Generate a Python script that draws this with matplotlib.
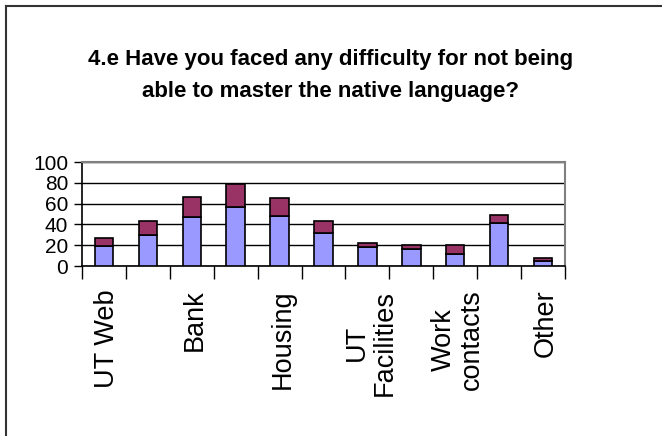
import matplotlib
matplotlib.use("Agg")
import matplotlib.pyplot as plt
from matplotlib.lines import Line2D
import numpy as np

categories = ["UT Web", "", "Bank", "", "Housing", "", "UT\nFacilities", "", "Work\ncontacts", "", "Other"]
series_blue = [19, 30, 47, 57, 48, 32, 18, 16, 12, 41, 5]
series_red = [8, 13, 19, 22, 17, 11, 4, 4, 8, 8, 3]
yticks = [0, 20, 40, 60, 80, 100]
title = "4.e Have you faced any difficulty for not being\nable to master the native language?"

regular = ["Liberation Sans", "DejaVu Sans"]

fig = plt.figure(figsize=(6.62, 4.36), dpi=100)
ax = fig.add_axes([82/662, 1-266/436, (565-82)/662, (266-162)/436])

x = np.arange(len(categories))
w = 0.42
ax.bar(x, series_blue, width=w, color="#9999FF", edgecolor="black", linewidth=1.2, zorder=3)
ax.bar(x, series_red, width=w, bottom=series_blue, color="#993366", edgecolor="black", linewidth=1.2, zorder=3)

ax.set_xlim(-0.5, len(categories) - 0.5)
ax.set_ylim(0, 100)
ax.set_yticks(yticks)
ax.set_yticklabels([str(v) for v in yticks], fontfamily=regular, fontsize=15)
ax.yaxis.grid(True, color="black", linewidth=1.0, zorder=0)
ax.set_axisbelow(True)

# category boundary ticks
ax.set_xticks(np.arange(len(categories) + 1) - 0.5, minor=False)
ax.set_xticklabels([])
ax.tick_params(axis="x", which="major", length=9, width=1, color="black", direction="out")
ax.set_xticks(x + 0.07, minor=True)
ax.set_xticklabels(categories, minor=True, rotation=90, fontfamily=regular, fontsize=19.5,
                   va="top", ha="center", multialignment="center", linespacing=1.1)
ax.tick_params(axis="x", which="minor", length=0, pad=17)
ax.tick_params(axis="y", length=6, width=1, color="black", pad=4)

for s in ["left", "bottom"]:
    ax.spines[s].set_color("black")
    ax.spines[s].set_linewidth(1.2)
for s in ["right", "top"]:
    ax.spines[s].set_color("#808080")
    ax.spines[s].set_linewidth(1.5)

fig.text(0.5, 1 - 75.5/436, title, ha="center", va="center", fontsize=16,
         fontweight="bold", fontfamily=regular, linespacing=1.65)

# outer frame (top and left only visible)
fig.add_artist(Line2D([6/662, 1.0], [1-6/436, 1-6/436], transform=fig.transFigure, color="#333333", linewidth=1.5))
fig.add_artist(Line2D([6/662, 6/662], [0, 1-6/436], transform=fig.transFigure, color="#333333", linewidth=1.5))

fig.savefig("out.png", dpi=100)
